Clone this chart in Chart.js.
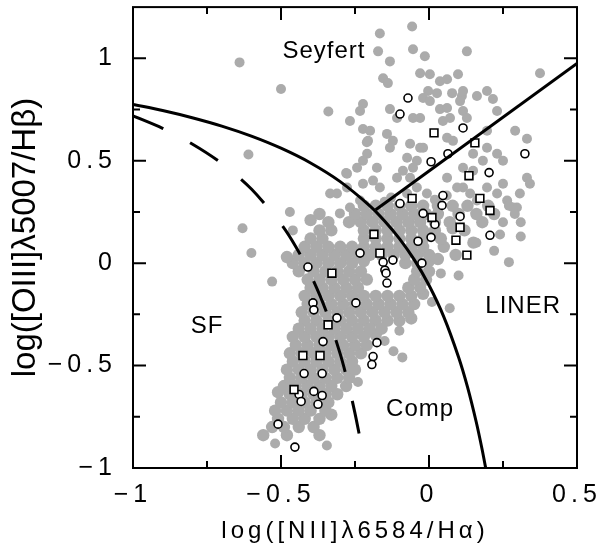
<!DOCTYPE html>
<html><head><meta charset="utf-8">
<script src="https://cdn.jsdelivr.net/npm/chart.js@4.4.0/dist/chart.umd.min.js"></script>
<style>html,body{margin:0;padding:0;background:#fff;}canvas{display:block;}</style>
</head><body>
<canvas id="c" width="601" height="552"></canvas>
<script>
// ---- axis ticks ----
const xTicks = [-1, -0.5, 0, 0.5];
const yTicks = [-1, -0.5, 0, 0.5, 1];
const xMinor = [-0.75, -0.25, 0.25];
const yMinor = [-0.75, -0.25, 0.25, 0.75];

// ---- demarcation lines (log NII/Ha, log OIII/Hb) ----
const kewley01 = [[-1.0,0.775],[-0.9,0.745],[-0.8,0.710],[-0.7,0.669],[-0.6,0.620],[-0.5,0.561],[-0.4,0.489],[-0.3,0.398],[-0.2,0.280],[-0.15,0.206],[-0.1,0.120],[-0.05,0.017],[0.0,-0.108],[0.05,-0.262],[0.1,-0.459],[0.13,-0.604],[0.16,-0.778],[0.18,-0.913],[0.192,-1.004]];
const kauffmann03 = [[-1.0,0.719],[-0.9,0.658],[-0.8,0.582],[-0.7,0.487],[-0.6,0.362],[-0.5,0.191],[-0.45,0.080],[-0.4,-0.056],[-0.35,-0.225],[-0.3,-0.443],[-0.27,-0.606],[-0.25,-0.733],[-0.233,-0.855]];
const seyfertLiner = [[-0.18,0.261],[0.5,0.975]];

// ---- gray galaxies: dense body of the distribution ----
const grayLower = [
[-0.56,-0.84],[-0.48,-0.84],[-0.37,-0.84],
[-0.53,-0.80],[-0.49,-0.80],[-0.44,-0.80],[-0.39,-0.80],
[-0.51,-0.76],[-0.46,-0.76],[-0.42,-0.76],[-0.37,-0.76],[-0.33,-0.74],
[-0.52,-0.72],[-0.48,-0.72],[-0.44,-0.72],[-0.40,-0.72],[-0.35,-0.72],
[-0.50,-0.68],[-0.46,-0.68],[-0.42,-0.68],[-0.38,-0.68],[-0.34,-0.68],
[-0.51,-0.63],[-0.47,-0.64],[-0.43,-0.64],[-0.39,-0.64],[-0.35,-0.64],[-0.31,-0.64],
[-0.49,-0.60],[-0.45,-0.60],[-0.41,-0.60],[-0.37,-0.60],[-0.33,-0.60],[-0.28,-0.60],
[-0.47,-0.56],[-0.43,-0.56],[-0.39,-0.56],[-0.35,-0.56],[-0.31,-0.56],[-0.27,-0.56],
[-0.48,-0.52],[-0.44,-0.52],[-0.40,-0.52],[-0.36,-0.52],[-0.32,-0.52],[-0.28,-0.52],[-0.25,-0.52],
[-0.46,-0.48],[-0.42,-0.48],[-0.38,-0.48],[-0.34,-0.48],[-0.30,-0.48],[-0.26,-0.48],
[-0.47,-0.44],[-0.43,-0.44],[-0.39,-0.44],[-0.35,-0.44],[-0.31,-0.44],[-0.27,-0.44],[-0.23,-0.44],
[-0.45,-0.40],[-0.41,-0.40],[-0.37,-0.40],[-0.33,-0.40],[-0.29,-0.40],[-0.25,-0.40],[-0.21,-0.40],
[-0.46,-0.36],[-0.42,-0.36],[-0.38,-0.36],[-0.34,-0.36],[-0.30,-0.36],[-0.26,-0.36],[-0.22,-0.36],[-0.18,-0.35],
[-0.44,-0.32],[-0.40,-0.32],[-0.36,-0.32],[-0.32,-0.32],[-0.28,-0.32],[-0.24,-0.32],[-0.20,-0.32],[-0.16,-0.32]
];
const grayMiddle = [
[-0.42,-0.28],[-0.38,-0.28],[-0.34,-0.28],[-0.30,-0.28],[-0.26,-0.28],[-0.22,-0.28],[-0.18,-0.28],[-0.14,-0.28],[-0.10,-0.28],[-0.06,-0.27],
[-0.43,-0.24],[-0.39,-0.24],[-0.35,-0.24],[-0.31,-0.24],[-0.27,-0.24],[-0.23,-0.24],[-0.19,-0.24],[-0.15,-0.24],[-0.11,-0.24],[-0.07,-0.24],
[-0.41,-0.20],[-0.37,-0.20],[-0.33,-0.20],[-0.29,-0.20],[-0.25,-0.20],[-0.21,-0.20],[-0.17,-0.20],[-0.13,-0.20],[-0.09,-0.20],[-0.05,-0.20],
[-0.42,-0.16],[-0.38,-0.16],[-0.34,-0.16],[-0.30,-0.16],[-0.26,-0.16],[-0.22,-0.16],[-0.18,-0.16],[-0.14,-0.16],[-0.10,-0.16],[-0.06,-0.16],[-0.02,-0.15],
[-0.40,-0.12],[-0.36,-0.12],[-0.32,-0.12],[-0.28,-0.12],[-0.24,-0.12],[-0.07,-0.12],[-0.03,-0.12],
[-0.41,-0.08],[-0.37,-0.08],[-0.33,-0.08],[-0.29,-0.08],[-0.25,-0.08],[-0.21,-0.08],[-0.05,-0.08],[-0.01,-0.08],
[-0.44,-0.04],[-0.39,-0.04],[-0.35,-0.04],[-0.31,-0.04],[-0.27,-0.04],[-0.23,-0.04],[-0.04,-0.04],[0.00,-0.04],
[-0.46,0.00],[-0.42,0.00],[-0.38,0.00],[-0.34,0.00],[-0.30,0.00],[-0.26,0.00],[-0.22,0.01],[-0.08,0.00],[-0.04,0.00],[0.00,0.01],
[-0.48,0.03],[-0.44,0.04],[-0.40,0.04],[-0.36,0.04],[-0.32,0.04],[-0.28,0.04],[-0.24,0.04],[-0.20,0.04],[-0.16,0.04],[-0.12,0.04],[-0.08,0.04],[-0.04,0.04],[0.00,0.04],[0.03,0.02],
[-0.42,0.08],[-0.38,0.08],[-0.34,0.08],[-0.30,0.08],[-0.26,0.08],[-0.22,0.08],[-0.18,0.08],[-0.14,0.08],[-0.10,0.08],[-0.06,0.08],[-0.02,0.08],[0.05,0.08],[0.09,0.04],
[-0.40,0.12],[-0.36,0.12],[-0.22,0.12],[-0.18,0.12],[-0.14,0.12],[-0.10,0.12],[-0.06,0.12],[-0.02,0.12],[0.04,0.12],
[-0.37,0.16],[-0.33,0.16],[-0.22,0.16],[-0.18,0.16],[-0.14,0.16],[-0.10,0.16],[-0.06,0.16],[-0.02,0.16],[0.02,0.16],[0.08,0.17],[0.12,0.16],[0.15,0.10],
[-0.40,0.21],[-0.37,0.24],[-0.34,0.20],[-0.27,0.20],[-0.23,0.20],[-0.19,0.20],[-0.15,0.20],[-0.11,0.20],[-0.07,0.20],[-0.03,0.20],[0.02,0.20],[0.07,0.20],[0.18,0.20],
[-0.25,0.24],[-0.21,0.24],[-0.17,0.24],[-0.13,0.24],[-0.09,0.24],[-0.05,0.24],[-0.01,0.24],[0.03,0.24],[0.10,0.24],[0.16,0.24],[0.22,0.24],
[-0.22,0.28],[-0.18,0.28],[-0.14,0.28],[-0.10,0.28],[-0.06,0.28],[-0.02,0.28],[0.03,0.28],[0.08,0.28],[0.13,0.28],[0.20,0.28]
];
// ---- gray galaxies: sparse upper part and isolated objects ----
const grayUpper = [
[-0.057,1.155],[-0.166,1.121],[-0.172,1.034],[-0.054,1.044],[-0.014,1.010],[0.128,1.034],[-0.132,0.985],
[-0.155,0.903],[-0.139,0.879],[-0.030,0.927],[0.003,0.922],[0.037,0.888],[0.061,0.898],[0.098,0.922],[0.375,0.927],
[-0.003,0.840],[0.027,0.830],[0.078,0.830],[0.111,0.816],[0.115,0.840],[0.162,0.816],[0.196,0.840],[0.216,0.801],
[0.230,0.743],[-0.020,0.806],[0.003,0.791],[-0.223,0.777],[-0.233,0.743],[-0.267,0.694],[-0.223,0.655],[-0.199,0.646],
[-0.132,0.752],[-0.108,0.709],[-0.054,0.709],[-0.030,0.709],[0.037,0.752],[0.061,0.757],[0.047,0.694],[0.071,0.709],
[0.115,0.743],[0.128,0.709],[0.105,0.791],[-0.142,0.631],[-0.122,0.597],[-0.132,0.563],[-0.206,0.597],[-0.209,0.534],
[-0.223,0.500],[-0.064,0.583],[-0.030,0.563],[-0.243,0.466],[-0.277,0.437],[-0.176,0.466],[-0.074,0.515],[-0.041,0.500],
[0.061,0.612],[0.081,0.597],[0.196,0.646],[0.196,0.563],[0.230,0.534],[0.250,0.500],[0.291,0.646],[0.331,0.607],
[0.149,0.534],[0.182,0.500],[0.115,0.466],[0.149,0.451],[-0.108,0.417],[-0.088,0.451],[-0.054,0.466],[-0.020,0.563],
[-0.223,0.388],[-0.189,0.403],[-0.277,0.369],[-0.311,0.340],[0.331,0.417],[0.307,0.340],[0.297,0.272],[0.341,0.388],
[0.250,0.388],[0.196,0.369],[0.230,0.340],[0.115,0.369],[-0.334,0.340],[-0.166,0.369],[-0.064,0.417],[-0.041,0.369],
[-0.074,0.340],[-0.007,0.340],[0.061,0.417],[0.095,0.369],[0.139,0.340],[0.162,0.306],[0.264,0.306],[0.284,0.272],
[-0.233,0.306],[-0.267,0.272],[-0.301,0.243],[-0.128,0.320],[-0.150,0.300],[0.020,0.310],[0.060,0.330],
[-0.64,0.98],[-0.50,0.85],[-0.34,0.74],[-0.61,0.53],[-0.21,0.59],[-0.28,0.44]
];
const grayScatter = [
[-0.52,-0.88],[-0.345,-0.89],[-0.24,-0.58],[-0.12,-0.43],[-0.09,-0.46],[-0.15,-0.38],[-0.10,-0.33],
[0.01,-0.19],[0.07,-0.22],[-0.53,-0.09],[0.04,-0.05],[0.10,-0.06],[-0.60,0.05],
[0.16,0.10],[0.22,0.06],[0.27,0.005],[0.31,0.13],[0.24,0.14],[-0.63,0.17],[-0.46,0.16],
[-0.47,0.25],[0.25,0.20],[0.31,0.20],[0.29,0.24],[0.27,0.28]
];

// ---- black open symbols ----
const openCircles = [
[-0.071,0.806],[-0.098,0.728],[0.115,0.660],[0.324,0.534],[0.007,0.495],[0.064,0.534],[0.203,0.442],
[0.047,0.330],[0.044,0.282],[-0.098,0.291],[-0.020,0.243],[0.020,0.189],[0.105,0.228],[-0.037,0.107],
[0.007,0.126],[0.206,0.136],[-0.024,0.000],[-0.122,0.015],[-0.149,-0.034],[-0.233,0.049],[-0.155,0.005],
[-0.145,-0.049],[-0.142,-0.097],[-0.409,-0.019],[-0.247,-0.194],[-0.392,-0.194],[-0.389,-0.228],
[-0.311,-0.267],[-0.358,-0.383],[-0.422,-0.539],[-0.361,-0.539],[-0.439,-0.641],[-0.432,-0.675],
[-0.389,-0.626],[-0.361,-0.646],[-0.375,-0.689],[-0.176,-0.388],[-0.189,-0.456],[-0.193,-0.495],
[-0.510,-0.786],[-0.453,-0.898]
];
const openSquares = [
[0.017,0.636],[0.155,0.587],[0.135,0.427],[0.172,0.316],[0.206,0.257],[-0.057,0.316],[0.010,0.223],
[0.105,0.175],[0.091,0.112],[0.128,0.039],[-0.186,0.141],[-0.166,0.049],[-0.328,-0.049],[-0.341,-0.301],
[-0.426,-0.451],[-0.368,-0.451],[-0.456,-0.617]
];

// ---- region names ----
const regionLabels = [
  {text:'Seyfert', x:-0.355, y:1.034},
  {text:'SF', x:-0.75, y:-0.31},
  {text:'LINER', x:0.318, y:-0.21},
  {text:'Comp', x:-0.03, y:-0.715}
];

const FONT = 'Liberation Sans';
const GRAY = '#ababab';
const fmt = v => (v < 0 ? '\u2212' + Math.abs(v) : String(v));
const toXY = a => a.map(p => ({x: p[0], y: p[1]}));

function spaced(scale, method, spacing) {
  const orig = scale[method];
  scale[method] = function () {
    const c = this.ctx;
    c.save();
    c.letterSpacing = spacing;
    orig.apply(this, arguments);
    c.restore();
  };
}
function noPad(s) { s.paddingLeft = 0; s.paddingRight = 0; s.paddingTop = 0; s.paddingBottom = 0; }

const framePlugin = {
  id: 'frame',
  beforeDraw(chart) {
    const {x, y} = chart.scales;
    if (!x._sp) { spaced(x, 'drawLabels', '5px'); spaced(x, 'drawTitle', '4px'); x._sp = true; }
    if (!y._sp) { spaced(y, 'drawLabels', '5px'); spaced(y, 'drawTitle', '0px'); y._sp = true; }
  },
  afterDatasetsDraw(chart) {
    const {ctx, chartArea: a, scales: {x, y}} = chart;
    ctx.save();
    ctx.strokeStyle = '#000';
    ctx.lineWidth = 2;
    ctx.strokeRect(a.left, a.top, a.right - a.left, a.bottom - a.top);
    ctx.beginPath();
    const tx = (vals, len) => vals.forEach(v => {
      const p = x.getPixelForValue(v);
      ctx.moveTo(p, a.bottom); ctx.lineTo(p, a.bottom - len);
      ctx.moveTo(p, a.top); ctx.lineTo(p, a.top + len);
    });
    const ty = (vals, len) => vals.forEach(v => {
      const p = y.getPixelForValue(v);
      ctx.moveTo(a.left, p); ctx.lineTo(a.left + len, p);
      ctx.moveTo(a.right, p); ctx.lineTo(a.right - len, p);
    });
    tx(xTicks, 13); tx(xMinor, 7); ty(yTicks, 13); ty(yMinor, 7);
    ctx.stroke();
    ctx.fillStyle = '#000';
    ctx.font = '24px "' + FONT + '"';
    ctx.letterSpacing = '1px';
    ctx.textAlign = 'center';
    ctx.textBaseline = 'middle';
    regionLabels.forEach(l => ctx.fillText(l.text, x.getPixelForValue(l.x), y.getPixelForValue(l.y)));
    ctx.restore();
  }
};

new Chart(document.getElementById('c'), {
  type: 'scatter',
  data: {
    datasets: [
      {data: toXY(kewley01), showLine: true, borderColor: '#000', borderWidth: 3, pointRadius: 0, tension: 0.3},
      {data: toXY(kauffmann03), showLine: true, borderColor: '#000', borderWidth: 3, borderDash: [33, 30], pointRadius: 0, tension: 0.3},
      {data: toXY(seyfertLiner), showLine: true, borderColor: '#000', borderWidth: 3, pointRadius: 0},
      {data: toXY(openSquares), pointStyle: 'rect', pointRadius: 5.5, backgroundColor: '#fff', borderColor: '#000', borderWidth: 1.6},
      {data: toXY(openCircles), pointStyle: 'circle', pointRadius: 4, backgroundColor: '#fff', borderColor: '#000', borderWidth: 1.6},
      {data: toXY(grayUpper.concat(grayScatter)), pointRadius: 5, backgroundColor: GRAY, borderWidth: 0},
      {data: toXY(grayMiddle.concat(grayLower)), pointRadius: 6.2, backgroundColor: GRAY, borderWidth: 0}
    ]
  },
  options: {
    responsive: false,
    animation: false,
    events: [],
    layout: {padding: {top: 6, right: 24, left: 0, bottom: 0}},
    plugins: {legend: {display: false}, tooltip: {enabled: false}},
    scales: {
      x: {
        type: 'linear', min: -1, max: 0.5,
        afterBuildTicks: s => { s.ticks = xTicks.map(v => ({value: v})); },
        afterFit: s => { s.height = 84; noPad(s); },
        grid: {display: false, drawTicks: false},
        border: {display: false},
        ticks: {color: '#000', padding: 15, maxRotation: 0, autoSkip: false, font: {family: FONT, size: 25, lineHeight: 1}, callback: v => fmt(v)},
        title: {display: true, text: 'log([NII]\u03bb6584/H\u03b1)', color: '#000', font: {family: FONT, size: 24, lineHeight: 1}, padding: {top: 0, bottom: 9}}
      },
      y: {
        type: 'linear', min: -1, max: 1.25,
        afterBuildTicks: s => { s.ticks = yTicks.map(v => ({value: v})); },
        afterFit: s => { s.width = 133; noPad(s); },
        grid: {display: false, drawTicks: false},
        border: {display: false},
        ticks: {color: '#000', padding: 16, autoSkip: false, font: {family: FONT, size: 25, lineHeight: 1}, callback: v => fmt(v)},
        title: {display: true, text: 'log([OIII]\u03bb5007/H\u03b2)', color: '#000', font: {family: FONT, size: 33, lineHeight: 1}, padding: {top: 9, bottom: 0}}
      }
    }
  },
  plugins: [framePlugin]
});
</script>
</body></html>
